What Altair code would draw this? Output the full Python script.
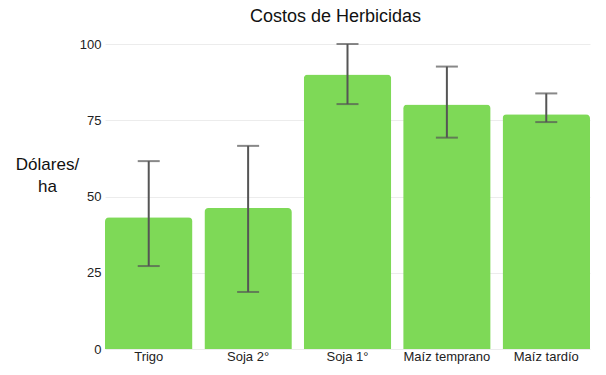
import altair as alt
import pandas as pd

categories = ["Trigo", "Soja 2°", "Soja 1°", "Maíz temprano", "Maíz tardío"]
costs = [43.2, 46.2, 90.0, 80.2, 77.0]
err_low = [27.2, 18.7, 80.3, 69.3, 74.4]
err_high = [61.6, 66.6, 100.0, 92.6, 83.8]

df = pd.DataFrame({"cat": categories, "cost": costs, "lo": err_low, "hi": err_high})

FONT = "Liberation Sans"

x = alt.X("cat:N", sort=categories, title=None,
          scale=alt.Scale(paddingInner=0.12, paddingOuter=0.0),
          axis=alt.Axis(labelAngle=0, ticks=False, domain=False, grid=False, labelFontSize=13,
                        labelColor="#222", labelPadding=1, labelFont=FONT))

bars = alt.Chart(df).mark_bar(color="#7ED957", cornerRadiusTopLeft=4, cornerRadiusTopRight=4).encode(
    x=x,
    y=alt.Y("cost:Q", scale=alt.Scale(domain=[0, 100], nice=False),
            title=["Dólares/", "ha"],
            axis=alt.Axis(values=[0, 25, 50, 75, 100], ticks=False, domain=False,
                          gridColor="#ececec", gridWidth=1,
                          labelFontSize=13, labelColor="#222", labelPadding=4, labelFont=FONT,
                          titleAngle=0, titleAlign="center", titleBaseline="middle",
                          titleX=-58, titleY=120, titleFontSize=17, titleFontWeight="normal",
                          titleColor="#111", titleFont=FONT, titleLineHeight=22)),
)

rule = alt.Chart(df).mark_rule(color="#555555", strokeWidth=2).encode(
    x=alt.X("cat:N", sort=categories),
    y="lo:Q",
    y2="hi:Q",
)
cap_lo = alt.Chart(df).mark_tick(color="#555555", thickness=2, size=22, orient="horizontal").encode(
    x=alt.X("cat:N", sort=categories), y="lo:Q")
cap_hi = alt.Chart(df).mark_tick(color="#555555", thickness=2, size=22, orient="horizontal").encode(
    x=alt.X("cat:N", sort=categories), y="hi:Q")

chart = alt.layer(bars, rule, cap_lo, cap_hi).properties(
    width=485, height=305,
    title=alt.TitleParams("Costos de Herbicidas", fontSize=18, fontWeight="normal", font=FONT,
                          color="#111", offset=12, dx=-12),
    padding={"left": 97, "top": 36, "right": 8, "bottom": 18},
    autosize=alt.AutoSizeParams(type="none"),
).configure(background="white").configure_view(stroke=None)

chart.save("out.html", embed_options={"renderer": "svg", "actions": False})
